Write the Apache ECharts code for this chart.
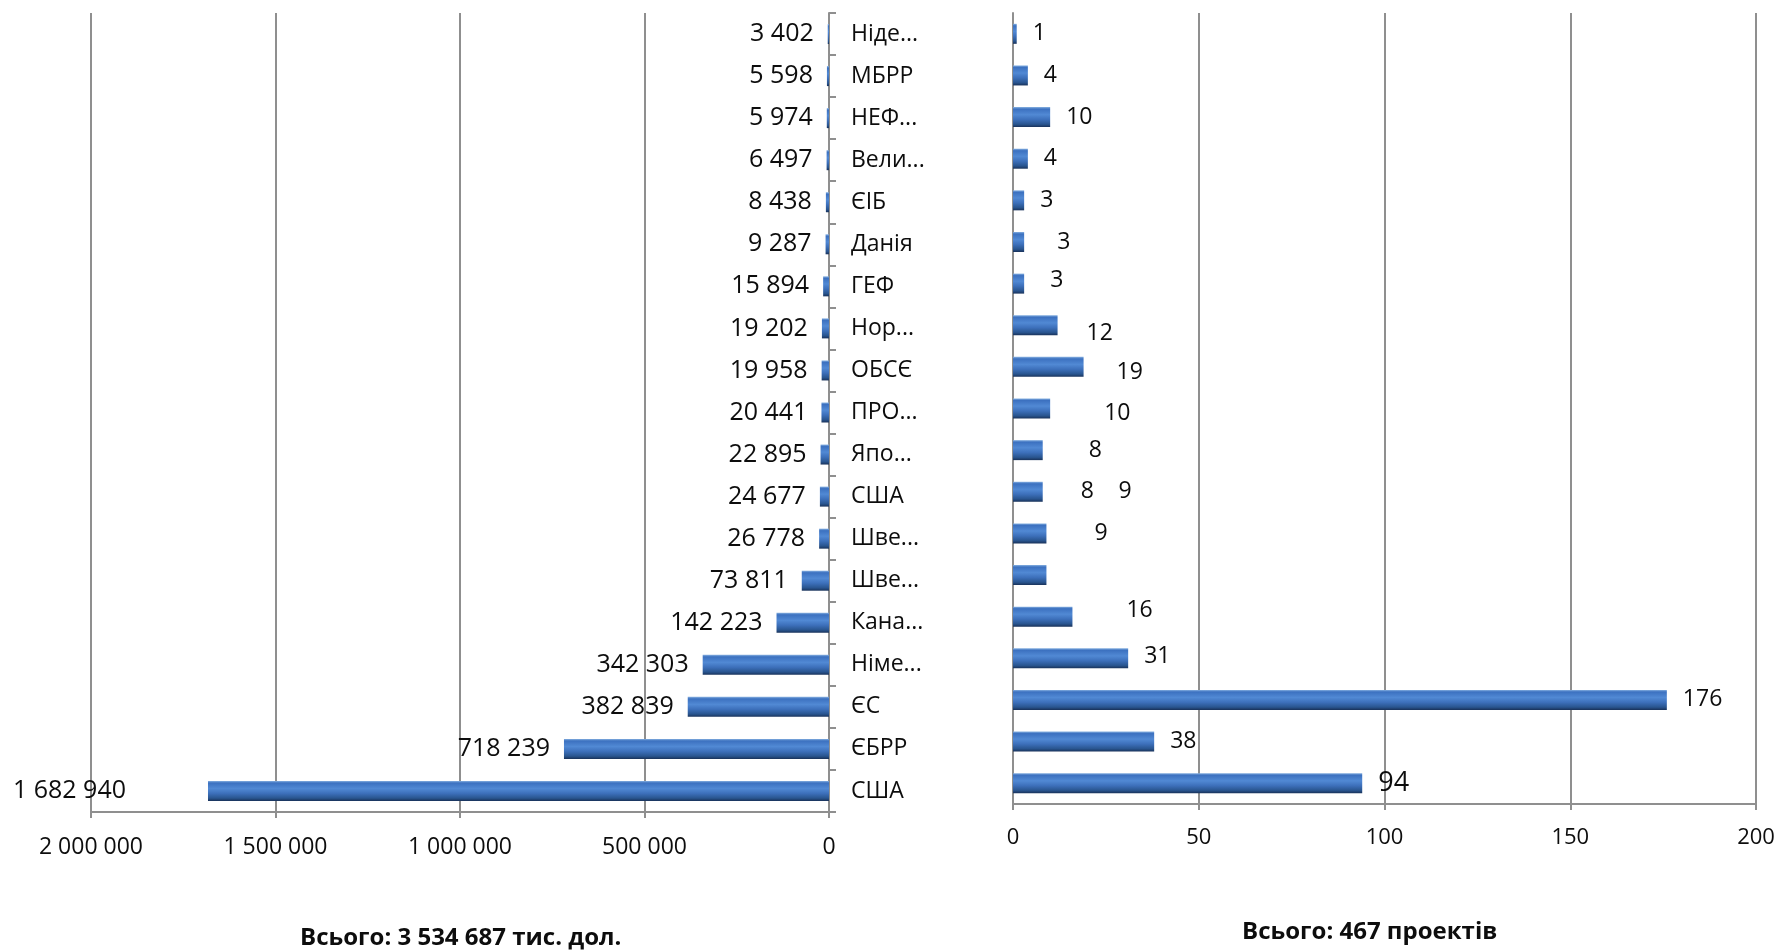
<!DOCTYPE html>
<html>
<head>
<meta charset="utf-8">
<script src="https://cdn.jsdelivr.net/npm/echarts@6/dist/echarts.min.js"></script>
<style>
html,body{margin:0;padding:0;background:#fff;}
#chart{width:1780px;height:952px;}
</style>
</head>
<body>
<div id="chart"></div>
<script>
// ---- data ----
const categories = ['Ніде...', 'МБРР', 'НЕФ...', 'Вели...', 'ЄІБ', 'Данія', 'ГЕФ', 'Нор...', 'ОБСЄ', 'ПРО...', 'Япо...', 'США', 'Шве...', 'Шве...', 'Кана...', 'Німе...', 'ЄС', 'ЄБРР', 'США'];
const amounts = [3402, 5598, 5974, 6497, 8438, 9287, 15894, 19202, 19958, 20441, 22895, 24677, 26778, 73811, 142223, 342303, 382839, 718239, 1682940];
const projects = [1, 4, 10, 4, 3, 3, 3, 12, 19, 10, 8, 8, 9, 9, 16, 31, 176, 38, 94];
const amountTicks = { min: 0, max: 2000000, interval: 500000 };
const projectTicks = { min: 0, max: 200, interval: 50 };
const captionLeft = 'Всього: 3 534 687 тис. дол.';
const captionRight = 'Всього: 467 проектів';

// ---- styling ----
const FONT = '"Open Sans", "Noto Sans", sans-serif';
const TXT = '#0d0d0d';
const GRID = '#8f8f8f';
const fmt = n => String(n).replace(/\B(?=(\d{3})+(?!\d))/g, ' ');
const barColor = {
  type: 'linear', x: 0, y: 0, x2: 0, y2: 1,
  colorStops: [
    { offset: 0, color: '#86b0e0' },
    { offset: 0.1, color: '#3c71c0' },
    { offset: 0.38, color: '#5189d4' },
    { offset: 0.62, color: '#3d70bb' },
    { offset: 0.86, color: '#29558f' },
    { offset: 1, color: '#19325a' }
  ]
};
// label nudges reproducing the hand-placed labels of the original
const leftNudge = { 18: [-68, 0] };
const rightNudge = {
  5: [17, 0], 6: [10, -3], 7: [13, 8], 8: [17, 6], 9: [38, 5], 10: [30, 0],
  11: [22, 0], 12: [56, -42], 13: [32, -42], 14: [38, -6], 15: [0, -2]
};
const PAD = [5, 0, 0, 0];

const chart = echarts.init(document.getElementById('chart'), null, { renderer: 'canvas' });

const option = {
  backgroundColor: '#fff',
  animation: false,
  textStyle: { fontFamily: FONT, color: TXT },
  grid: [
    { left: 91, top: 13, width: 738, height: 799, containLabel: false },
    { left: 1013, top: 13, width: 743, height: 791, containLabel: false }
  ],
  xAxis: [
    {
      type: 'value', gridIndex: 0, inverse: true,
      min: amountTicks.min, max: amountTicks.max, interval: amountTicks.interval,
      axisLine: { show: true, lineStyle: { color: GRID, width: 2 } },
      axisTick: { show: true, length: 6, lineStyle: { color: GRID, width: 2 } },
      splitLine: { show: true, lineStyle: { color: GRID, width: 2 } },
      axisLabel: { fontSize: 23, color: TXT, fontFamily: FONT, margin: 24, formatter: v => fmt(v) }
    },
    {
      type: 'value', gridIndex: 1,
      min: projectTicks.min, max: projectTicks.max, interval: projectTicks.interval,
      axisLine: { show: true, lineStyle: { color: GRID, width: 2 } },
      axisTick: { show: true, length: 6, lineStyle: { color: GRID, width: 2 } },
      splitLine: { show: true, lineStyle: { color: GRID, width: 2 } },
      axisLabel: { fontSize: 22, color: TXT, fontFamily: FONT, margin: 23 }
    }
  ],
  yAxis: [
    {
      type: 'category', gridIndex: 0, position: 'right', inverse: true,
      data: categories,
      axisLine: { show: true, lineStyle: { color: GRID, width: 2 } },
      axisTick: { show: true, length: 7, lineStyle: { color: GRID, width: 2 } },
      axisLabel: { fontSize: 23, color: TXT, fontFamily: FONT, margin: 22, align: 'left', padding: PAD }
    },
    {
      type: 'category', gridIndex: 1, inverse: true,
      data: categories,
      axisLine: { show: true, lineStyle: { color: GRID, width: 2 } },
      axisTick: { show: false },
      axisLabel: { show: false }
    }
  ],
  series: [
    {
      type: 'bar', xAxisIndex: 0, yAxisIndex: 0, barWidth: 20,
      itemStyle: { color: barColor },
      label: {
        show: true, position: 'left', distance: 14,
        fontSize: 25, color: TXT, fontFamily: FONT, padding: PAD,
        formatter: p => fmt(p.value)
      },
      data: amounts.map((v, i) => leftNudge[i] ? { value: v, label: { offset: leftNudge[i] } } : v)
    },
    {
      type: 'bar', xAxisIndex: 1, yAxisIndex: 1, barWidth: 20,
      itemStyle: { color: barColor },
      label: {
        show: true, position: 'right', distance: 16,
        fontSize: 23, color: TXT, fontFamily: FONT, padding: PAD
      },
      data: projects.map((v, i) => {
        const item = { value: v };
        const lab = {};
        if (rightNudge[i]) lab.offset = rightNudge[i];
        if (i === projects.length - 1) lab.fontSize = 27;
        if (Object.keys(lab).length) item.label = lab;
        return item;
      })
    }
  ],
  graphic: [
    {
      type: 'text', left: 300, top: 926,
      style: { text: captionLeft, font: 'bold 24px ' + FONT, fill: TXT }
    },
    {
      type: 'text', left: 1242, top: 920,
      style: { text: captionRight, font: 'bold 24px ' + FONT, fill: TXT }
    }
  ]
};
chart.setOption(option);
</script>
</body>
</html>
